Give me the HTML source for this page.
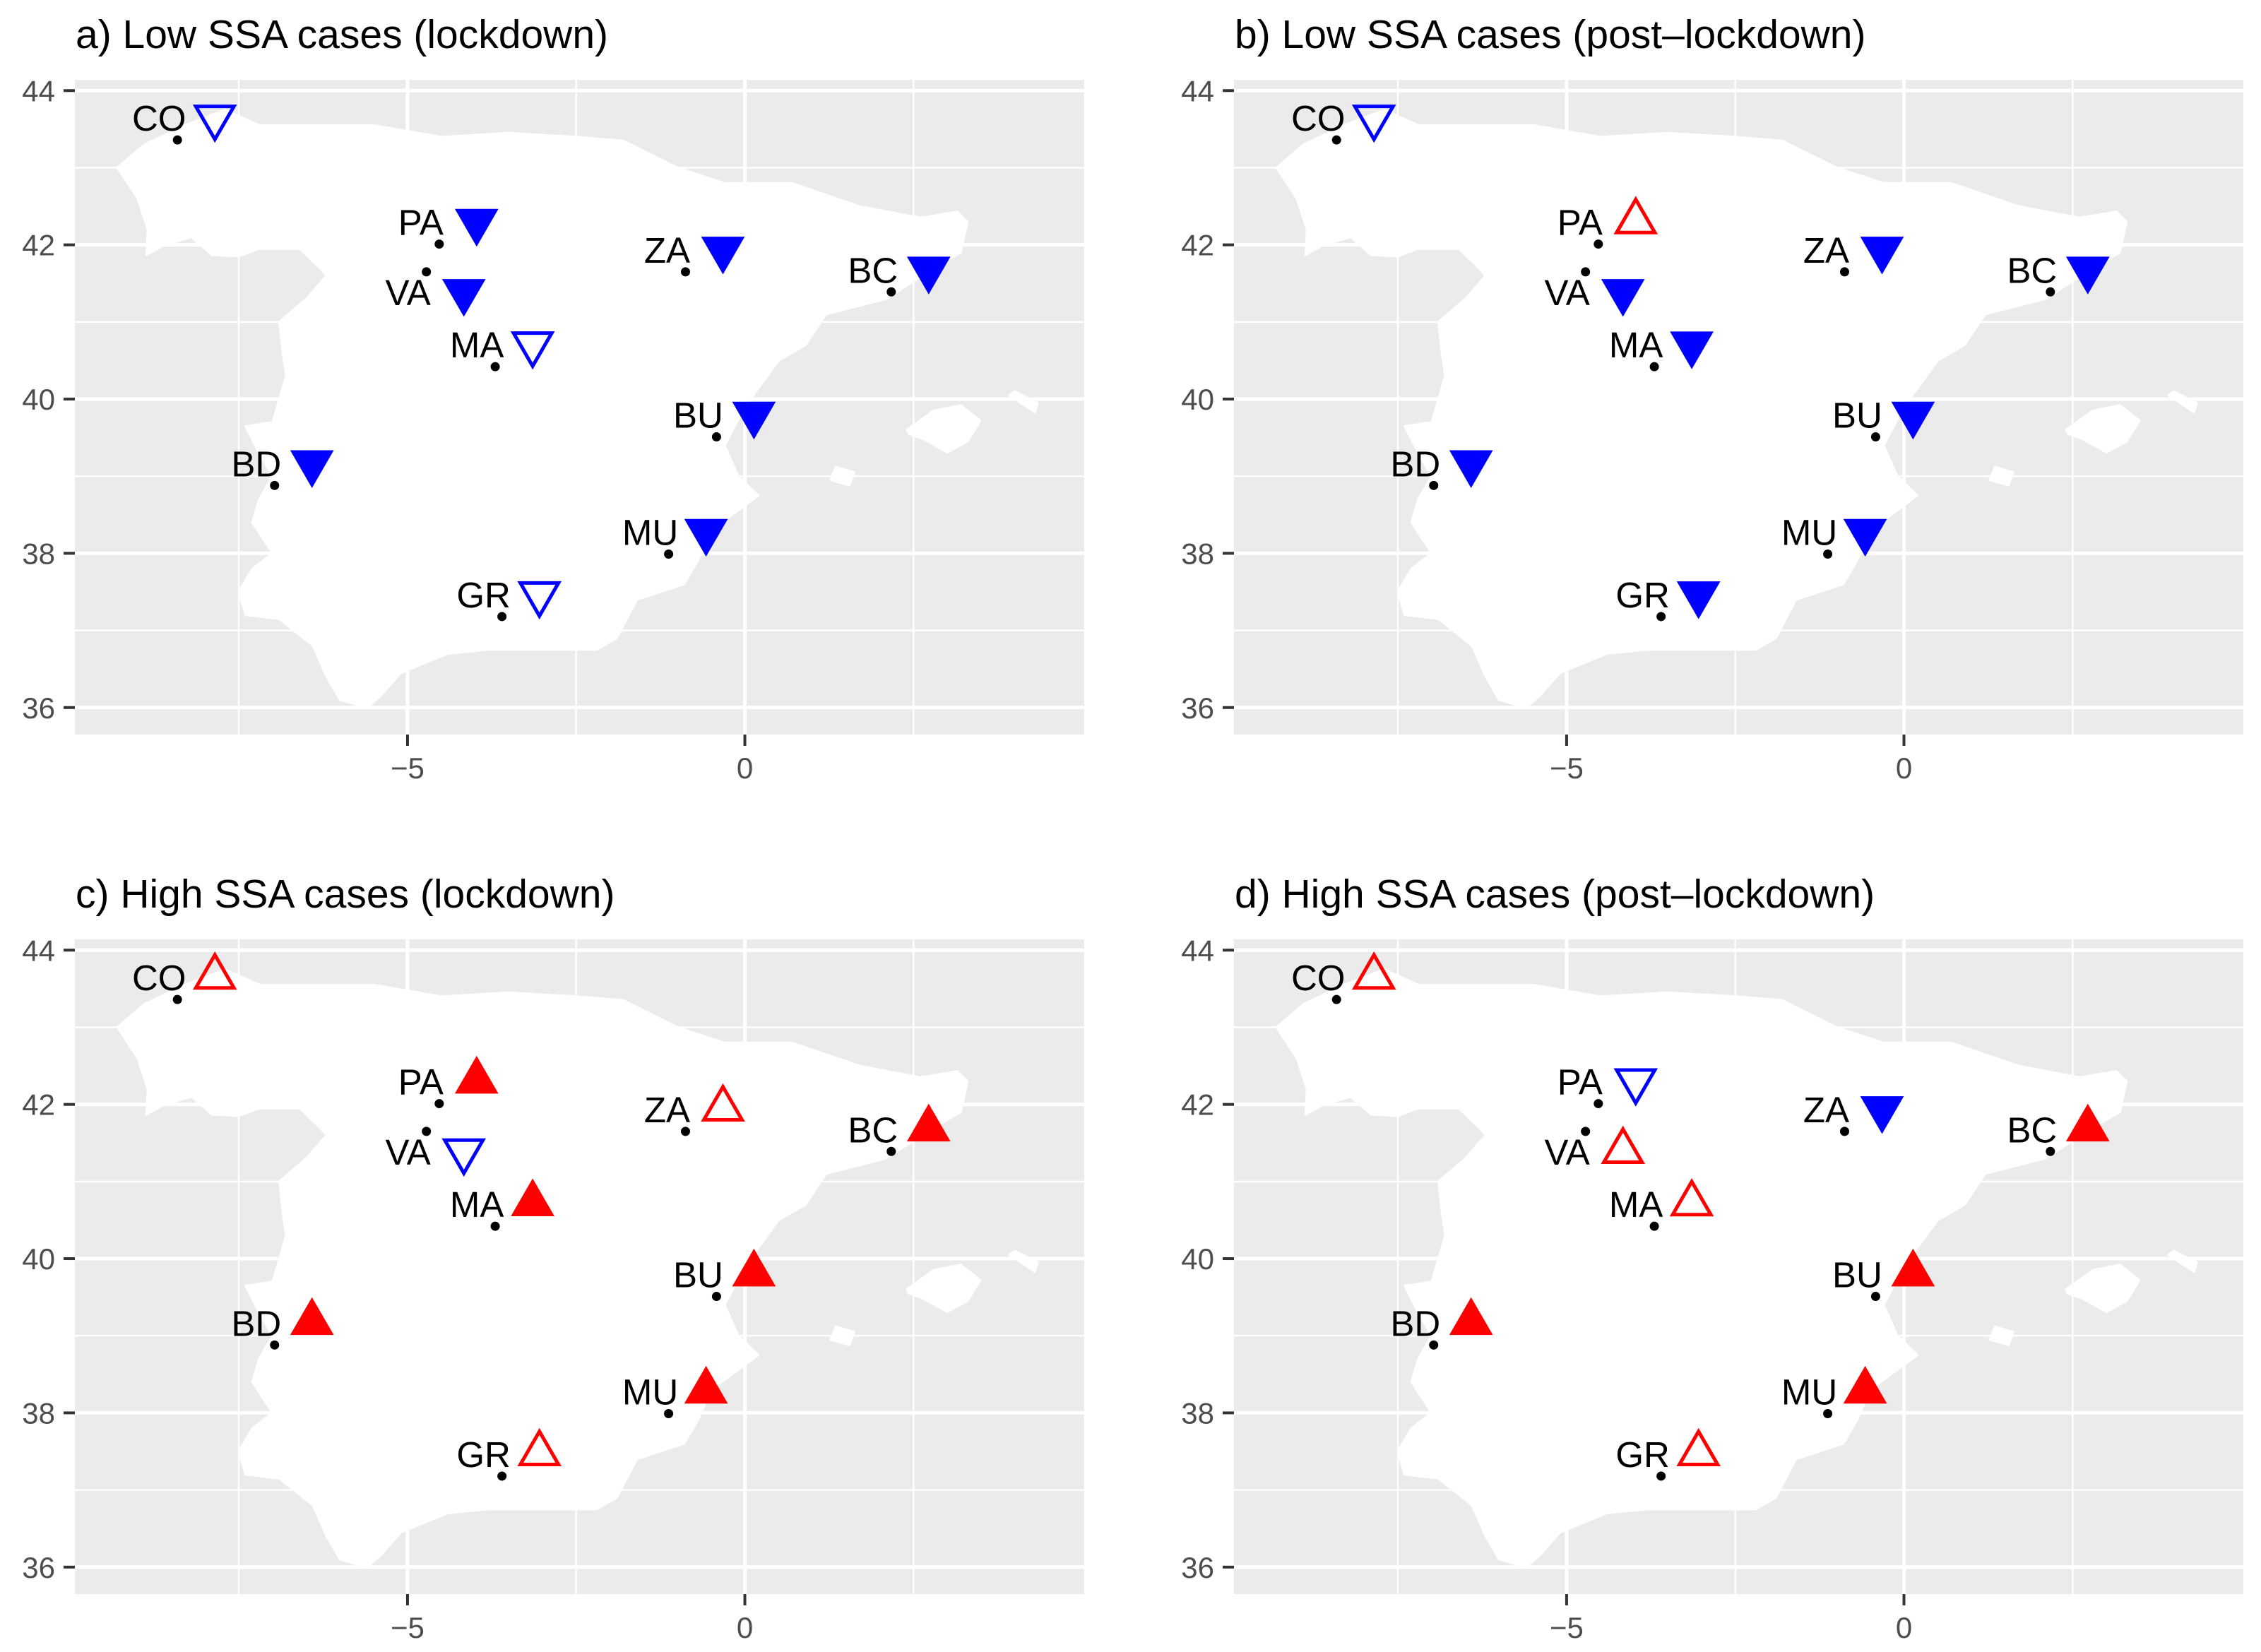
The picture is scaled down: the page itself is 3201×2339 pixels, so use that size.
<!DOCTYPE html>
<html><head><meta charset="utf-8">
<style>
html,body{margin:0;padding:0;background:#fff;}
svg{display:block;font-family:"Liberation Sans",Arial,sans-serif;}
</style></head>
<body>
<svg id="fig" xmlns="http://www.w3.org/2000/svg" width="3201" height="2339" viewBox="0 0 3201 2339"></svg>
<script>
// ---- data ----
const siteCodes = ["CO","PA","VA","MA","ZA","BC","BU","BD","MU","GR"];
const siteLon = [-8.41,-4.53,-4.72,-3.70,-0.88,2.17,-0.42,-6.97,-1.13,-3.60];
const siteLat = [43.36,42.01,41.65,40.42,41.65,41.39,39.51,38.88,37.99,37.18];
const panelTitles = ["a) Low SSA cases (lockdown)","b) Low SSA cases (post\u2013lockdown)","c) High SSA cases (lockdown)","d) High SSA cases (post\u2013lockdown)"];
// +2 filled up (red), +1 open up (red), -1 open down (blue), -2 filled down (blue)
const panelA = [-1,-2,-2,-1,-2,-2,-2,-2,-2,-1];
const panelB = [-1, 1,-2,-2,-2,-2,-2,-2,-2,-2];
const panelC = [ 1, 2,-1, 2, 1, 2, 2, 2, 2, 1];
const panelD = [ 1,-1, 1, 1,-2, 2, 2, 2, 2, 1];
const xTicks = [-5,0];
const xMinor = [-7.5,-2.5,2.5];
const yTicks = [36,38,40,42,44];
const yMinor = [37,39,41,43];
const mainland = [[-8.87,41.87],[-8.6,42.0],[-8.2,42.1],[-7.9,41.87],[-7.5,41.85],[-7.2,41.95],[-6.6,41.95],[-6.3,41.7],[-6.2,41.6],[-6.5,41.3],[-6.9,41.0],[-6.85,40.6],[-6.8,40.3],[-7.0,39.7],[-7.4,39.65],[-7.2,39.3],[-7.0,39.0],[-7.2,38.7],[-7.3,38.4],[-7.0,38.0],[-7.3,37.8],[-7.5,37.5],[-7.4,37.2],[-6.9,37.15],[-6.4,36.8],[-6.2,36.4],[-6.0,36.1],[-5.6,36.0],[-5.4,36.15],[-5.1,36.45],[-4.4,36.7],[-3.8,36.75],[-3.0,36.75],[-2.2,36.75],[-1.9,36.9],[-1.6,37.4],[-0.9,37.6],[-0.7,37.9],[-0.5,38.3],[0.2,38.75],[-0.1,39.0],[-0.3,39.4],[0.0,39.9],[0.5,40.5],[0.9,40.7],[1.2,41.1],[2.1,41.3],[2.8,41.7],[3.2,41.9],[3.3,42.3],[3.15,42.43],[2.6,42.35],[1.7,42.5],[0.7,42.8],[-0.3,42.8],[-1.0,43.0],[-1.8,43.35],[-2.5,43.4],[-3.5,43.45],[-4.5,43.4],[-5.5,43.55],[-6.5,43.55],[-7.2,43.55],[-7.7,43.75],[-8.3,43.55],[-8.9,43.3],[-9.3,43.0],[-9.0,42.6],[-8.85,42.2]];
const mallorca = [[2.43,39.55],[2.65,39.48],[3.0,39.31],[3.3,39.45],[3.49,39.72],[3.2,39.92],[2.8,39.85],[2.4,39.6]];
const menorca = [[3.92,40.05],[4.3,39.83],[4.34,39.95],[4.0,40.1]];
const ibiza = [[1.27,38.95],[1.55,38.88],[1.62,39.05],[1.35,39.12]];
const labelNudge = [0,0,60,0,0,0,0,0,0,0];

// ---- layout ----
const NS="http://www.w3.org/2000/svg";
const svg=document.getElementById('fig');
const PW=1429, PH=927, OX=[106,1747,106,1747], OY=[113,113,1330,1330];
const XMIN=-9.93, XMAX=5.03, YMIN=35.65, YMAX=44.14;
function mk(tag,attrs,parent){const e=document.createElementNS(NS,tag);for(const k in attrs)e.setAttribute(k,attrs[k]);(parent||svg).appendChild(e);return e;}
const panels=[panelA,panelB,panelC,panelD];
panels.forEach((vals,p)=>{
  const ox=OX[p], oy=OY[p];
  const sx=v=>ox+(v-XMIN)/(XMAX-XMIN)*PW;
  const sy=v=>oy+(YMAX-v)/(YMAX-YMIN)*PH;
  const g=mk('g',{});
  
  
  const t=mk('text',{x:ox+1,y:oy-45,'font-size':57,fill:'#000'},g);
  t.textContent=panelTitles[p];
  
  
  const bg=mk('rect',{x:ox,y:oy,width:PW,height:PH,fill:'#ebebeb'},g);
  
  
  xMinor.forEach(v=>{const l=mk('line',{x1:sx(v),x2:sx(v),y1:oy,y2:oy+PH,stroke:'#fff','stroke-width':2.5},g);
    });
  yMinor.forEach(v=>{const l=mk('line',{x1:ox,x2:ox+PW,y1:sy(v),y2:sy(v),stroke:'#fff','stroke-width':2.5},g);
    });
  xTicks.forEach(v=>{const l=mk('line',{x1:sx(v),x2:sx(v),y1:oy,y2:oy+PH,stroke:'#fff','stroke-width':5},g);
    
    const tk=mk('line',{x1:sx(v),x2:sx(v),y1:oy+PH,y2:oy+PH+16,stroke:'#333','stroke-width':4},g);
    
    const tl=mk('text',{x:sx(v),y:oy+PH+62,'font-size':42,fill:'#4d4d4d','text-anchor':'middle'},g);
    tl.textContent=v<0?'\u2212'+Math.abs(v):String(v);
    });
  yTicks.forEach(v=>{const l=mk('line',{x1:ox,x2:ox+PW,y1:sy(v),y2:sy(v),stroke:'#fff','stroke-width':5},g);
    
    const tk=mk('line',{x1:ox-16,x2:ox,y1:sy(v),y2:sy(v),stroke:'#333','stroke-width':4},g);
    
    const tl=mk('text',{x:ox-28,y:sy(v)+15,'font-size':42,fill:'#4d4d4d','text-anchor':'end'},g);
    tl.textContent=String(v);
    });
  [mainland,mallorca,menorca,ibiza].forEach((poly,i)=>{
    const pg=mk('polygon',{points:poly.map(q=>sx(q[0]).toFixed(1)+','+sy(q[1]).toFixed(1)).join(' '),fill:'#fff',stroke:'#fff','stroke-width':3,'stroke-linejoin':'round'},g);
    
    
  });
  siteCodes.forEach((code,i)=>{
    const dx=sx(siteLon[i]), dy=sy(siteLat[i]);
    const ny=labelNudge[i];
    const dot=mk('circle',{cx:dx,cy:dy,r:6.5,fill:'#000'},g);
    
    
    const lab=mk('text',{x:dx-26,y:dy-13+ny,'font-size':51,'text-anchor':'middle',fill:'#000'},g);
    lab.textContent=code;
    
    
    const v=vals[i], up=v>0, filled=Math.abs(v)===2;
    const col=up?'#ff0000':'#0000ff';
    const cx=dx+53, cy=dy-32+ny;
    const s=filled?60:54, h=s*Math.sqrt(3)/2;
    let pts;
    if(up) pts=[[cx,cy-2*h/3],[cx-s/2,cy+h/3],[cx+s/2,cy+h/3]];
    else pts=[[cx,cy+2*h/3],[cx-s/2,cy-h/3],[cx+s/2,cy-h/3]];
    const tri=mk('polygon',{points:pts.map(q=>q[0].toFixed(1)+','+q[1].toFixed(1)).join(' '),
      fill:filled?col:'none',stroke:col,'stroke-width':filled?1:5,'stroke-linejoin':'miter'},g);
    
    
  });
});
</script>
</body></html>
